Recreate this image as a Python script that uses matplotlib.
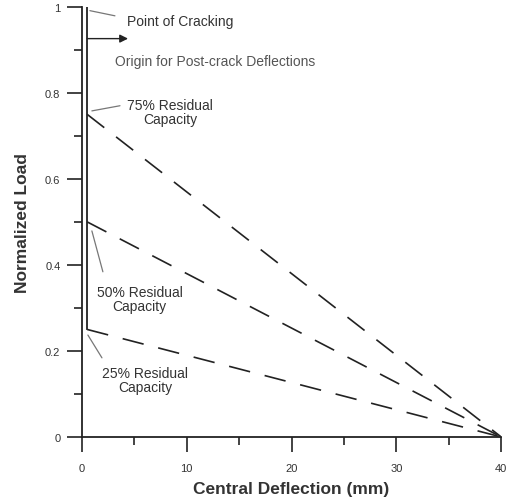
import matplotlib

matplotlib.use("Agg")
import matplotlib.pyplot as plt
from matplotlib.ticker import MultipleLocator

plt.rcParams["font.family"] = ["Liberation Sans", "DejaVu Sans"]

INK = "#222222"
TEXT = "#333333"
LEADER = "#777777"

# Pre-crack / post-crack response
crack_x = 0.5
peak_load = 1.0
residual = [0.75, 0.50, 0.25]
end_deflection = 40.0

fig = plt.figure(figsize=(5.12, 5.02), dpi=100)
ax = fig.add_axes([0.160, 0.1275, 0.819, 0.857])

# vertical drop at cracking, then linear softening for each residual level
ax.plot([crack_x, crack_x], [peak_load, min(residual)], color=INK, lw=1.3)
for r in residual:
    ax.plot([crack_x, end_deflection], [r, 0.0], color=INK, lw=1.2,
            dashes=(13, 9))

ax.set_xlim(0, 40)
ax.set_ylim(0, 1)
ax.spines["top"].set_visible(False)
ax.spines["right"].set_visible(False)
for s in ("left", "bottom"):
    ax.spines[s].set_linewidth(1.3)
    ax.spines[s].set_color(INK)

ax.xaxis.set_minor_locator(MultipleLocator(5))
ax.yaxis.set_minor_locator(MultipleLocator(0.1))
ax.set_xticks([0, 10, 20, 30, 40])
ax.set_xticklabels(["0", "10", "20", "30", "40"])
ax.set_yticks([0, 0.2, 0.4, 0.6, 0.8, 1.0])
ax.set_yticklabels(["0", "0.2", "0.4", "0.6", "0.8", "1"])
ax.tick_params(which="major", direction="out", length=10.5, width=1.2,
               color=INK, labelsize=8, labelcolor=TEXT, pad=5)
ax.tick_params(axis="x", which="major", pad=8)
ax.tick_params(which="minor", direction="out", length=5.5, width=1.2, color=INK)

ax.set_xlabel("Central Deflection (mm)", fontsize=12.5, fontweight="bold",
              color=TEXT, labelpad=6)
ax.set_ylabel("Normalized Load", fontsize=12.5, fontweight="bold",
              color=TEXT, labelpad=11)


def leader(start, end):
    ax.annotate("", xy=end, xytext=start,
                arrowprops=dict(arrowstyle="-", color=LEADER, lw=0.9,
                                shrinkA=0, shrinkB=0))


label_kw = dict(fontsize=10, color=TEXT, ha="center", va="center",
                linespacing=1.0)

ax.text(4.3, 0.967, "Point of Cracking", fontsize=10, color=TEXT,
        ha="left", va="center")
leader((3.15, 0.979), (0.76, 0.991))

ax.annotate("", xy=(4.4, 0.926), xytext=(crack_x, 0.926),
            arrowprops=dict(arrowstyle="-|>", color=INK, lw=1.0,
                            mutation_scale=12, shrinkA=0, shrinkB=0))
ax.text(3.15, 0.874, "Origin for Post-crack Deflections", fontsize=10,
        color="#555555", ha="left", va="center")

ax.text(8.4, 0.755, "75% Residual\nCapacity", **label_kw)
leader((3.63, 0.770), (0.95, 0.758))

ax.text(5.5, 0.321, "50% Residual\nCapacity", **label_kw)
leader((2.0, 0.384), (0.95, 0.479))

ax.text(6.0, 0.1325, "25% Residual\nCapacity", **label_kw)
leader((1.91, 0.184), (0.57, 0.237))

fig.savefig("out.png", dpi=100)
